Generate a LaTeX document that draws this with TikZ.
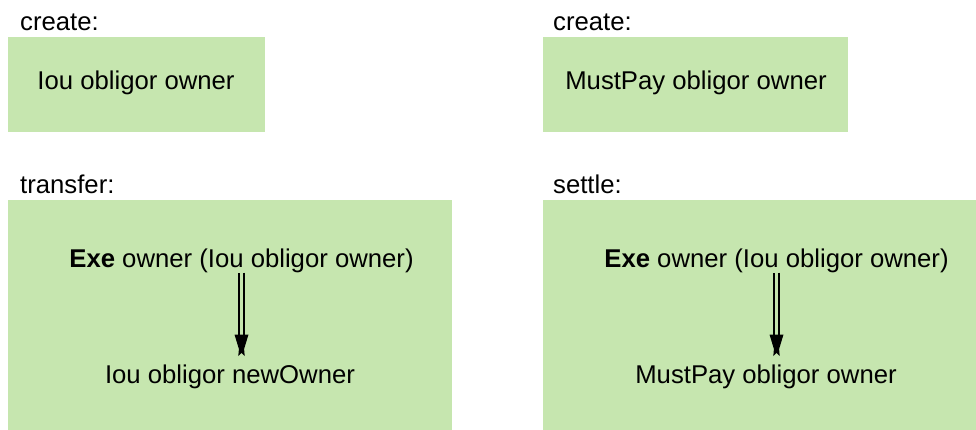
\documentclass[tikz,border=0pt]{standalone}
\usepackage{fontspec}
\setmainfont{Liberation Sans}
\usetikzlibrary{calc}
\definecolor{boxgreen}{RGB}{198,230,175}
\tikzset{
  panel/.style={fill=boxgreen, draw=none},
  txt/.style={anchor=base, inner sep=0pt, font=\fontsize{25.7}{30}\selectfont},
  lbl/.style={anchor=base west, inner sep=0pt, font=\fontsize{25.7}{30}\selectfont},
  dbl/.style={line width=1.7pt, draw=black, double=boxgreen, double distance=3.8pt},
  headfill/.style={fill=black}
}
\begin{document}
\begin{tikzpicture}[x=1pt,y=-1pt]
\useasboundingbox (0,0) rectangle (976,430);
% panels
\fill[panel] (8,37) rectangle (265,132);
\fill[panel] (543,37) rectangle (848,132);
\fill[panel] (8,200) rectangle (452,430);
\fill[panel] (543,200) rectangle (976,430);
% labels
\node[lbl] (l1) at (20,31) {create:};
\node[lbl] (l2) at (553,31) {create:};
\node[lbl] (l3) at (20,194) {transfer:};
\node[lbl] (l4) at (553,194) {settle:};
% texts
\node[txt] (c1) at (136,90) {Iou obligor owner};
\node[txt] (c2) at (696,90) {MustPay obligor owner};
\node[txt] (e1) at (241.5,267) {\textbf{Exe} owner (Iou obligor owner)};
\node[txt] (t1) at (230,383) {Iou obligor newOwner};
\node[txt] (e2) at (776.5,267) {\textbf{Exe} owner (Iou obligor owner)};
\node[txt] (t2) at (766,383) {MustPay obligor owner};
% arrows
\coordinate (h1) at (e1.south |- 0,336);
\coordinate (h2) at (e2.south |- 0,336);
\draw[dbl] (e1.south) -- (h1);
\draw[dbl] (e2.south) -- (h2);
\foreach \h in {h1,h2}{
  \fill[headfill,shift={(\h)}] (-7,-1.5) -- (7,-1.5) -- (2.6,13) -- (3.2,20) -- (0,17) -- (-3.2,20) -- (-2.6,13) -- cycle;
}
\end{tikzpicture}
\end{document}
